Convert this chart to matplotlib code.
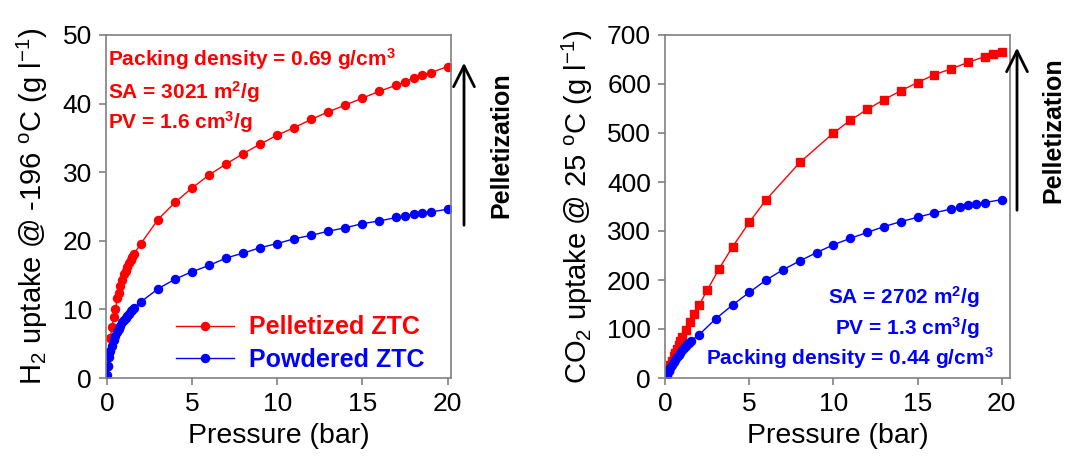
import matplotlib
matplotlib.use("Agg")
import matplotlib.pyplot as plt
import numpy as np

plt.rcParams['font.family'] = ['Liberation Sans', 'DejaVu Sans']
plt.rcParams['mathtext.fontset'] = 'custom'
plt.rcParams['mathtext.rm'] = 'Liberation Sans'
plt.rcParams['mathtext.it'] = 'Liberation Sans:italic'
plt.rcParams['mathtext.bf'] = 'Liberation Sans:bold'

# ---- Data: H2 uptake at -196 C (g/l) ----
h2_p_pel = [0.05, 0.1, 0.2, 0.3, 0.4, 0.5, 0.6, 0.7, 0.8, 0.9, 1.0, 1.1, 1.2, 1.3, 1.4, 1.5, 1.6,
            2, 3, 4, 5, 6, 7, 8, 9, 10, 11, 12, 13, 14, 15, 16, 17, 17.5, 18, 18.5, 19, 20]
h2_pel = [1.7, 3.6, 5.8, 7.4, 8.9, 10.0, 11.6, 12.4, 13.4, 14.3, 15.1, 15.6, 16.2, 16.7, 17.2, 17.7, 18.1,
          19.6, 23.1, 25.6, 27.7, 29.6, 31.2, 32.7, 34.1, 35.4, 36.5, 37.7, 38.8, 39.8, 40.8, 41.8, 42.7,
          43.2, 43.7, 44.1, 44.5, 45.4]
h2_p_pow = [0.01, 0.05, 0.1, 0.2, 0.3, 0.4, 0.5, 0.6, 0.7, 0.8, 0.9, 1.0, 1.1, 1.2, 1.3, 1.4, 1.5, 1.6,
            2, 3, 4, 5, 6, 7, 8, 9, 10, 11, 12, 13, 14, 15, 16, 17, 17.5, 18, 18.5, 19, 20]
h2_pow = [0.5, 1.7, 3.1, 4.0, 4.6, 5.5, 6.1, 6.7, 7.2, 7.6, 8.1, 8.5, 8.8, 9.1, 9.4, 9.7, 9.9, 10.2,
          11.1, 13.0, 14.4, 15.5, 16.4, 17.5, 18.2, 19.0, 19.6, 20.3, 20.8, 21.4, 21.9, 22.5, 22.9, 23.4,
          23.6, 23.9, 24.0, 24.2, 24.6]

# ---- Data: CO2 uptake at 25 C (g/l) ----
co2_p_pel = [0.02, 0.05, 0.1, 0.2, 0.3, 0.4, 0.5, 0.6, 0.7, 0.8, 0.9, 1.0, 1.2, 1.45, 1.7,
             2, 2.5, 3.2, 4, 5, 6, 8, 10, 11, 12, 13, 14, 15, 16, 17, 18, 19, 19.5, 20]
co2_pel = [2, 5, 10, 18, 27, 35, 44, 52, 60, 68, 76, 84, 98, 115, 130,
           148, 180, 223, 268, 318, 364, 440, 500, 526, 548, 568, 586, 603, 619, 631, 644, 656, 661, 666]
co2_p_pow = [0.02, 0.05, 0.1, 0.2, 0.3, 0.4, 0.5, 0.6, 0.7, 0.8, 0.9, 1.0, 1.1, 1.2, 1.3, 1.4, 1.5,
             2, 3, 4, 5, 6, 7, 8, 9, 10, 11, 12, 13, 14, 15, 16, 17, 17.5, 18, 18.5, 19, 20]
co2_pow = [2, 4, 7, 14, 20, 26, 32, 37, 42, 47, 52, 57, 62, 66, 69, 71, 75,
           88, 121, 149, 175, 200, 221, 239, 256, 272, 285, 297, 309, 319, 328, 337, 345, 348,
           353, 356, 358, 364]

RED = '#ff0000'
BLUE = '#0000ff'
SPINE = '#808080'

fig = plt.figure(figsize=(10.73, 4.62), dpi=100)
ax1 = fig.add_axes([106/1073, 84/462, 345/1073, 343/462])
ax2 = fig.add_axes([665/1073, 84/462, 345/1073, 343/462])

def style(ax):
    for s in ax.spines.values():
        s.set_color(SPINE)
        s.set_linewidth(1.2)
    ax.tick_params(direction='out', length=5, width=1.2, color=SPINE,
                   labelsize=19, pad=5, top=False, right=False)
    ax.set_xlabel('Pressure (bar)', fontsize=20.5, labelpad=5)

# Left panel
ax1.plot(h2_p_pel, h2_pel, '-', color=RED, lw=1, marker='o', ms=5.8, label='Pelletized ZTC')
ax1.plot(h2_p_pow, h2_pow, '-', color=BLUE, lw=1, marker='o', ms=5.8, label='Powdered ZTC')
ax1.set_xlim(-0.05, 20.2)
ax1.set_ylim(0, 50)
ax1.set_xticks([0, 5, 10, 15, 20])
ax1.set_yticks([0, 10, 20, 30, 40, 50])
style(ax1)
ax1.set_ylabel(r'H$_2$ uptake @ -196 $^\mathrm{o}$C (g l$^{-1}$)', fontsize=21, labelpad=9)
leg = ax1.legend(loc='lower right', bbox_to_anchor=(0.952, -0.012), frameon=False, fontsize=18,
                 handlelength=2.3, handletextpad=0.6, labelspacing=0.35, borderaxespad=0.0)
for t, c in zip(leg.get_texts(), [RED, BLUE]):
    t.set_color(c)
    t.set_fontweight('bold')

ax1.text(0.005, 0.93, r'Packing density = 0.69 g/cm$^\mathbf{3}$', transform=ax1.transAxes,
         color=RED, fontsize=15, fontweight='bold', va='center', ha='left')
ax1.text(0.005, 0.835, r'SA = 3021 m$^\mathbf{2}$/g', transform=ax1.transAxes,
         color=RED, fontsize=15, fontweight='bold', va='center', ha='left')
ax1.text(0.005, 0.745, r'PV = 1.6 cm$^\mathbf{3}$/g', transform=ax1.transAxes,
         color=RED, fontsize=15, fontweight='bold', va='center', ha='left')

# Right panel
ax2.plot(co2_p_pel, co2_pel, '-', color=RED, lw=1, marker='s', ms=6.2)
ax2.plot(co2_p_pow, co2_pow, '-', color=BLUE, lw=1, marker='o', ms=5.8)
ax2.set_xlim(-0.02, 20.5)
ax2.set_ylim(0, 700)
ax2.set_xticks([0, 5, 10, 15, 20])
ax2.set_yticks(range(0, 701, 100))
style(ax2)
ax2.set_ylabel(r'CO$_2$ uptake @ 25 $^\mathrm{o}$C (g l$^{-1}$)', fontsize=21, labelpad=9)

ax2.text(0.913, 0.235, r'SA = 2702 m$^\mathbf{2}$/g', transform=ax2.transAxes,
         color=BLUE, fontsize=15, fontweight='bold', va='center', ha='right')
ax2.text(0.913, 0.147, r'PV = 1.3 cm$^\mathbf{3}$/g', transform=ax2.transAxes,
         color=BLUE, fontsize=15, fontweight='bold', va='center', ha='right')
ax2.text(0.952, 0.058, r'Packing density = 0.44 g/cm$^\mathbf{3}$', transform=ax2.transAxes,
         color=BLUE, fontsize=15, fontweight='bold', va='center', ha='right')

# Pelletization arrows
def px(x, y):
    return (x / 1073, 1 - y / 462)

for (xa, y0, y1, xt, yt) in [(464, 228, 60, 501, 145), (1017, 213, 45, 1053, 130)]:
    fig.add_artist(matplotlib.patches.FancyArrowPatch(
        px(xa, y0), px(xa, y1), transform=fig.transFigure,
        arrowstyle='->,head_length=10,head_width=5', color='black', lw=2,
        mutation_scale=1.5))
    fig.text(*px(xt, yt), 'Pelletization', rotation=90, fontsize=18, fontweight='bold',
             ha='center', va='center')

fig.savefig('out.png', dpi=100)
